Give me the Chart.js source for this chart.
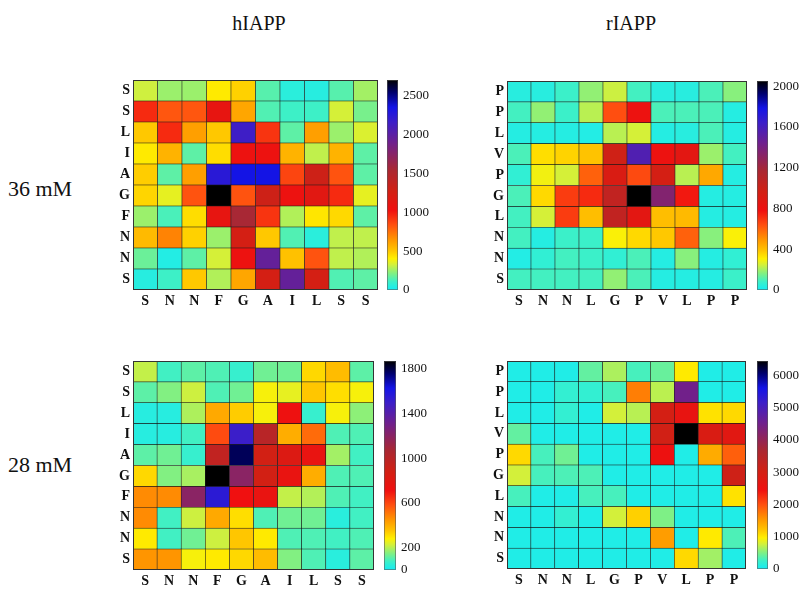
<!DOCTYPE html>
<html>
<head>
<meta charset="utf-8">
<script src="https://cdn.jsdelivr.net/npm/chart.js@4.4.1/dist/chart.umd.min.js"></script>
<style>
  body { margin: 0; background: #fff; }
  #page { position: relative; width: 806px; height: 590px; overflow: hidden;
          font-family: 'Liberation Serif', 'Times New Roman', serif; color: #111; }
  canvas { position: absolute; }
  .lbl { position: absolute; white-space: nowrap; line-height: 1; }
</style>
</head>
<body>
<div id="page">
  <div class="lbl" style="left:259px;top:13px;font-size:20px;transform:translateX(-50%)">hIAPP</div>
  <div class="lbl" style="left:631px;top:13px;font-size:20px;transform:translateX(-50%)">rIAPP</div>
  <div class="lbl" style="left:8px;top:178px;font-size:22px">36 mM</div>
  <div class="lbl" style="left:8px;top:454px;font-size:22px">28 mM</div>

  <canvas id="hm1" width="282" height="240" style="left:98px;top:76px"></canvas>
  <canvas id="cb1" width="50" height="224" style="left:387px;top:74px"></canvas>
  <canvas id="hm2" width="277" height="239" style="left:472px;top:77px"></canvas>
  <canvas id="cb2" width="49" height="223" style="left:757px;top:75px"></canvas>
  <canvas id="hm3" width="278" height="233" style="left:98px;top:357px"></canvas>
  <canvas id="cb3" width="50" height="223" style="left:384px;top:355px"></canvas>
  <canvas id="hm4" width="276" height="233" style="left:472px;top:357px"></canvas>
  <canvas id="cb4" width="49" height="222" style="left:757px;top:355px"></canvas>
</div>
<script>
// sequences (x axis left->right, y axis bottom->top)
const hSeq = ['S', 'N', 'N', 'F', 'G', 'A', 'I', 'L', 'S', 'S'];
const rSeq = ['S', 'N', 'N', 'L', 'G', 'P', 'V', 'L', 'P', 'P'];

// contact maps, rows listed top -> bottom as in the picture
const hIAPP36 = [
  [320, 250, 250, 420, 480, 150, 60, 50, 150, 260],
  [950, 820, 820, 1100, 600, 140, 110, 110, 330, 200],
  [500, 950, 620, 500, 2150, 920, 160, 620, 250, 340],
  [420, 560, 160, 450, 1050, 1050, 560, 300, 560, 160],
  [490, 160, 620, 2250, 2350, 2350, 870, 1300, 830, 160],
  [470, 360, 830, 2700, 830, 1300, 1050, 1150, 950, 360],
  [250, 130, 450, 1100, 1550, 920, 280, 430, 460, 160],
  [540, 700, 480, 250, 1250, 500, 140, 60, 300, 300],
  [180, 40, 160, 330, 1050, 1950, 520, 830, 300, 280],
  [50, 110, 500, 280, 600, 1250, 1950, 1250, 140, 160]
];
const rIAPP36 = [
  [40, 40, 80, 180, 240, 90, 40, 40, 100, 170],
  [90, 180, 80, 220, 640, 800, 100, 100, 100, 35],
  [35, 35, 35, 30, 220, 250, 35, 40, 100, 35],
  [100, 340, 360, 390, 980, 1560, 800, 860, 190, 90],
  [60, 290, 250, 600, 920, 650, 950, 220, 450, 35],
  [100, 350, 680, 720, 1050, 2050, 1350, 760, 35, 35],
  [90, 250, 680, 400, 1050, 860, 400, 410, 35, 35],
  [90, 35, 80, 80, 300, 350, 380, 600, 170, 300],
  [30, 60, 90, 80, 60, 100, 35, 170, 35, 60],
  [90, 90, 90, 90, 180, 100, 35, 35, 35, 80]
];
const hIAPP28 = [
  [210, 80, 110, 95, 65, 130, 130, 320, 370, 110],
  [110, 150, 220, 95, 130, 270, 250, 350, 310, 270],
  [35, 35, 190, 410, 340, 270, 720, 65, 270, 160],
  [35, 35, 80, 590, 1500, 1000, 400, 530, 95, 95],
  [110, 130, 65, 960, 1780, 880, 820, 750, 180, 80],
  [320, 150, 185, 1870, 1200, 880, 750, 400, 95, 95],
  [470, 470, 1200, 1550, 710, 750, 210, 195, 95, 80],
  [470, 80, 220, 410, 310, 95, 130, 130, 40, 80],
  [290, 80, 130, 220, 350, 290, 95, 95, 80, 95],
  [450, 450, 270, 290, 320, 370, 150, 95, 40, 110]
];
const rIAPP28 = [
  [80, 80, 80, 400, 650, 300, 420, 1000, 80, 80],
  [80, 80, 200, 200, 300, 1700, 700, 4500, 80, 80],
  [80, 80, 200, 80, 780, 690, 3000, 2600, 1050, 1100],
  [400, 80, 80, 80, 80, 80, 3050, 6450, 2900, 2750],
  [1100, 300, 450, 80, 80, 80, 2500, 80, 1400, 1900],
  [780, 300, 320, 320, 80, 80, 80, 80, 80, 3100],
  [300, 80, 80, 300, 300, 80, 80, 80, 80, 1050],
  [80, 80, 200, 80, 780, 1150, 500, 80, 80, 80],
  [80, 80, 80, 80, 80, 80, 1500, 80, 1000, 320],
  [80, 80, 80, 80, 80, 80, 80, 1100, 620, 80]
];

// colour bar ranges and tick labels
const h36Max = 2700, h36Ticks = [0, 500, 1000, 1500, 2000, 2500];
const r36Max = 2050, r36Ticks = [0, 400, 800, 1200, 1600, 2000];
const h28Max = 1870, h28Ticks = [0, 200, 600, 1000, 1400, 1800];
const r28Max = 6450, r28Ticks = [0, 1000, 2000, 3000, 4000, 5000, 6000];

// cyan -> yellow -> red -> purple -> blue -> black
const stops = [
  [0.00, 20, 235, 245], [0.04, 60, 240, 200], [0.08, 130, 240, 130],
  [0.12, 210, 240, 60], [0.15, 255, 240, 0], [0.19, 255, 195, 0],
  [0.24, 255, 150, 0], [0.31, 255, 80, 16], [0.38, 240, 16, 16],
  [0.47, 210, 32, 20], [0.57, 170, 40, 50], [0.70, 112, 32, 140],
  [0.80, 60, 30, 200], [0.87, 20, 20, 230], [0.94, 0, 0, 110], [1.00, 0, 0, 0]
];

function cmap(t) {
  t = Math.max(0, Math.min(1, t));
  for (let i = 1; i < stops.length; i++) {
    const a = stops[i - 1], b = stops[i];
    if (t <= b[0]) {
      const f = (t - a[0]) / (b[0] - a[0]);
      const c = [1, 2, 3].map(k => Math.round(a[k] + (b[k] - a[k]) * f));
      return `rgb(${c[0]},${c[1]},${c[2]})`;
    }
  }
  return 'rgb(0,0,0)';
}

const tickFont = { family: "'Liberation Serif', serif", size: 14, weight: 'bold' };
const barFont = { family: "'Liberation Serif', serif", size: 13 };
const noGrid = { display: false, drawTicks: false };

// drop the label overhang padding chart.js adds, so the plot area sits where we put it
const noOverhang = s => { s.paddingTop = 0; s.paddingBottom = 0; s.paddingLeft = 0; s.paddingRight = 0; };

// thin dark outline round the plot area, like the matlab axes box
const frame = {
  id: 'frame',
  afterDatasetsDraw(chart, args, opts) {
    const { ctx, chartArea: a } = chart;
    ctx.save();
    ctx.strokeStyle = opts.color || '#222';
    ctx.lineWidth = 1;
    ctx.strokeRect(a.left + 0.5, a.top + 0.5, a.width - 1, a.height - 1);
    ctx.restore();
  }
};

function heatmap(id, seq, rows, vmax, xh) {
  const n = seq.length;
  const datasets = [];
  for (let r = 0; r < n; r++) {
    const row = rows[n - 1 - r]; // dataset 0 is the bottom row
    datasets.push({
      data: row.map(() => 1),
      backgroundColor: row.map(v => cmap(v / vmax)),
      borderColor: 'rgba(20,20,20,0.95)',
      borderWidth: 0.6,
      borderSkipped: false,
      barPercentage: 1,
      categoryPercentage: 1
    });
  }
  new Chart(document.getElementById(id), {
    type: 'bar',
    data: { labels: seq, datasets },
    plugins: [frame],
    options: {
      responsive: false,
      animation: false,
      devicePixelRatio: 1,
      layout: { padding: { top: 4, right: 2, left: 0, bottom: 0 } },
      plugins: { legend: { display: false }, tooltip: { enabled: false }, frame: { color: '#333' } },
      scales: {
        x: {
          stacked: true,
          grid: noGrid,
          border: { display: false },
          ticks: { font: tickFont, color: '#111', padding: 3, maxRotation: 0, autoSkip: false },
          afterFit: s => { noOverhang(s); s.height = xh; }
        },
        y: {
          stacked: true,
          min: 0,
          max: n,
          grid: noGrid,
          border: { display: false },
          afterBuildTicks: s => { s.ticks = seq.map((_, i) => ({ value: i + 0.5 })); },
          ticks: { font: tickFont, color: '#111', padding: 3, callback: v => seq[Math.floor(v)] },
          afterFit: s => { noOverhang(s); s.width = 35; }
        }
      }
    }
  });
}

function colorbar(id, vmax, ticks, axisW) {
  new Chart(document.getElementById(id), {
    type: 'bar',
    data: {
      labels: [''],
      datasets: [{
        data: [vmax],
        backgroundColor: ctx => {
          const area = ctx.chart.chartArea;
          if (!area) return 'rgb(20,235,245)';
          const g = ctx.chart.ctx.createLinearGradient(0, area.bottom, 0, area.top);
          stops.forEach(s => g.addColorStop(s[0], `rgb(${s[1]},${s[2]},${s[3]})`));
          return g;
        },
        borderWidth: 0,
        barPercentage: 1,
        categoryPercentage: 1
      }]
    },
    plugins: [frame],
    options: {
      responsive: false,
      animation: false,
      devicePixelRatio: 1,
      layout: { padding: { top: 6, bottom: 8, left: 0, right: 0 } },
      plugins: { legend: { display: false }, tooltip: { enabled: false }, frame: { color: 'rgba(90,90,90,0.6)' } },
      scales: {
        x: { display: false },
        y: {
          position: 'right',
          min: 0,
          max: vmax,
          grid: noGrid,
          border: { display: false },
          afterBuildTicks: s => { s.ticks = ticks.map(v => ({ value: v })); },
          ticks: { font: barFont, color: '#111', padding: 5, callback: v => String(v) },
          afterFit: s => { noOverhang(s); s.width = axisW; }
        }
      }
    }
  });
}

heatmap('hm1', hSeq, hIAPP36, h36Max, 26);
heatmap('hm2', rSeq, rIAPP36, r36Max, 26);
heatmap('hm3', hSeq, hIAPP28, h28Max, 20);
heatmap('hm4', rSeq, rIAPP28, r28Max, 21);
colorbar('cb1', h36Max, h36Ticks, 39);
colorbar('cb2', r36Max, r36Ticks, 38);
colorbar('cb3', h28Max, h28Ticks, 38);
colorbar('cb4', r28Max, r28Ticks, 38);
</script>
</body>
</html>
